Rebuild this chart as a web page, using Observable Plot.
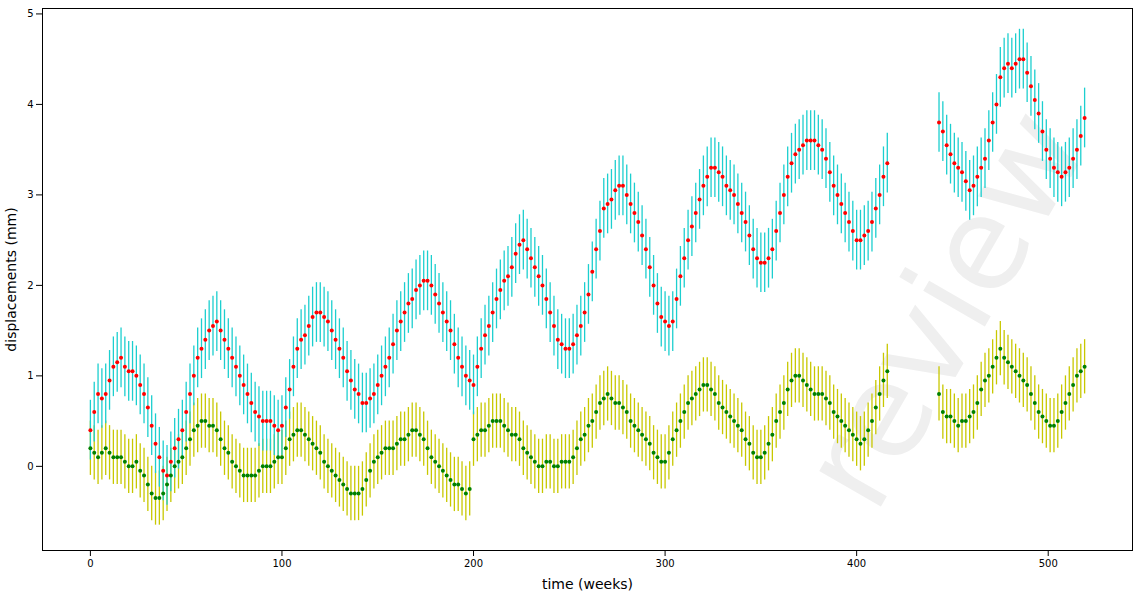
<!DOCTYPE html>
<html><head><meta charset="utf-8">
<script src="https://cdn.jsdelivr.net/npm/d3@7"></script>
<script src="https://cdn.jsdelivr.net/npm/@observablehq/plot@0.6"></script>
<style>body{margin:0;background:#fff;font-family:"DejaVu Sans",sans-serif}</style>
</head><body><div id="c"></div>
<script>
const weeksA = d3.range(0, 417, 4);
const weeksA2 = d3.range(2, 415, 4);
const weeksB = [443,447,451,455,459,463,467,471,475,479,483,487,491,495,499,503,507,511,515,519];
const weeksB2 = [445,449,453,457,461,465,469,473,477,481,485,489,493,497,501,505,509,513,517];
const redA = [0.4,0.8,0.8,1.1,1.2,1.05,1.0,0.8,0.45,0.1,-0.1,0.2,0.4,0.8,1.2,1.4,1.55,1.5,1.3,1.1,0.9,0.7,0.55,0.5,0.45,0.45,0.85,1.3,1.45,1.65,1.7,1.6,1.4,1.2,0.95,0.8,0.7,0.8,1.0,1.2,1.5,1.7,1.85,2.0,2.05,1.9,1.7,1.5,1.2,1.0,0.9,1.3,1.55,1.85,2.05,2.2,2.45,2.4,2.2,2.0,1.7,1.4,1.3,1.35,1.55,1.9,2.4,2.85,2.95,3.1,3.0,2.8,2.55,2.2,1.8,1.6,1.6,2.1,2.5,2.8,3.1,3.3,3.25,3.1,3.0,2.8,2.55,2.3,2.25,2.4,2.8,3.2,3.45,3.55,3.6,3.55,3.4,3.1,2.9,2.7,2.5,2.55,2.7,3.0,3.35];
const redA2 = [0.6,0.75,0.95,1.15,1.1,1.05,0.9,0.65,0.25,-0.05,0.05,0.3,0.6,1.0,1.3,1.5,1.6,1.4,1.2,1.0,0.8,0.6,0.5,0.5,0.4,0.65,1.1,1.4,1.55,1.7,1.65,1.5,1.3,1.05,0.85,0.7,0.75,0.9,1.1,1.35,1.6,1.8,1.95,2.05,2.0,1.8,1.6,1.35,1.1,0.95,1.1,1.45,1.7,1.95,2.1,2.35,2.5,2.3,2.1,1.85,1.55,1.35,1.3,1.45,1.7,2.15,2.6,2.9,3.05,3.1,2.9,2.7,2.4,2.0,1.65,1.55,1.85,2.3,2.65,2.95,3.2,3.3,3.2,3.05,2.9,2.7,2.4,2.25,2.3,2.6,3.0,3.35,3.5,3.6,3.6,3.5,3.25,3.0,2.8,2.6,2.5,2.6,2.85,3.2];
const redB = [3.8,3.55,3.35,3.25,3.05,3.2,3.4,3.8,4.3,4.45,4.45,4.5,4.2,3.9,3.5,3.3,3.2,3.3,3.5,3.85];
const redB2 = [3.7,3.45,3.3,3.15,3.1,3.3,3.6,4.0,4.4,4.4,4.5,4.35,4.05,3.7,3.4,3.25,3.25,3.4,3.65];
const greenA = [0.2,0.1,0.2,0.1,0.1,0.0,0.05,-0.1,-0.3,-0.35,-0.2,0.0,0.1,0.3,0.45,0.5,0.45,0.3,0.15,0.0,-0.1,-0.1,-0.05,0.0,0.05,0.1,0.3,0.4,0.35,0.25,0.15,0.0,-0.1,-0.2,-0.3,-0.3,-0.15,0.05,0.15,0.2,0.25,0.3,0.4,0.35,0.2,0.05,-0.05,-0.15,-0.2,-0.3,0.3,0.4,0.45,0.5,0.45,0.35,0.3,0.15,0.05,0.0,0.05,0.0,0.05,0.1,0.3,0.45,0.6,0.75,0.75,0.7,0.6,0.45,0.35,0.25,0.1,0.05,0.3,0.5,0.7,0.8,0.9,0.85,0.7,0.6,0.5,0.4,0.25,0.1,0.15,0.35,0.6,0.85,1.0,0.95,0.85,0.8,0.75,0.6,0.5,0.4,0.3,0.3,0.5,0.8,1.05];
const greenA2 = [0.15,0.15,0.15,0.1,0.05,0.0,-0.05,-0.2,-0.35,-0.3,-0.1,0.05,0.2,0.4,0.5,0.45,0.4,0.2,0.05,-0.05,-0.1,-0.1,0.0,0.0,0.1,0.2,0.35,0.4,0.3,0.2,0.05,-0.05,-0.15,-0.25,-0.3,-0.25,-0.05,0.1,0.2,0.2,0.3,0.35,0.4,0.3,0.1,0.0,-0.1,-0.2,-0.25,-0.25,0.35,0.4,0.5,0.5,0.4,0.35,0.2,0.1,0.0,0.05,0.0,0.05,0.05,0.2,0.35,0.5,0.7,0.8,0.7,0.65,0.5,0.4,0.3,0.15,0.05,0.15,0.4,0.6,0.75,0.85,0.9,0.8,0.65,0.55,0.45,0.3,0.15,0.1,0.25,0.5,0.7,0.95,1.0,0.9,0.8,0.8,0.7,0.55,0.45,0.35,0.25,0.4,0.65,0.95];
const greenB = [0.8,0.55,0.5,0.5,0.55,0.7,0.95,1.1,1.3,1.15,1.05,0.95,0.8,0.6,0.5,0.45,0.6,0.8,1.0,1.1];
const greenB2 = [0.6,0.55,0.45,0.5,0.6,0.85,1.0,1.2,1.2,1.1,1.0,0.9,0.7,0.55,0.45,0.5,0.7,0.9,1.05];
const redErr = 0.33, greenErr = 0.3;

const mk = (ws, vs) => ws.map((w,i)=>({w, v:vs[i]}));
const red = [...mk(weeksA,redA), ...mk(weeksA2,redA2), ...mk(weeksB,redB), ...mk(weeksB2,redB2)];
const green = [...mk(weeksA,greenA), ...mk(weeksA2,greenA2), ...mk(weeksB,greenB), ...mk(weeksB2,greenB2)];

const chart = Plot.plot({
  width:1133, height:592, marginLeft:42, marginRight:1, marginTop:8, marginBottom:42,
  style:{fontSize:"10px", fontFamily:"DejaVu Sans"},
  x:{domain:[-25,544], ticks:[0,100,200,300,400,500], tickFormat:"d", label:"time (weeks)", labelAnchor:"center", labelArrow:false, labelOffset:38},
  y:{domain:[-0.93,5.06], ticks:[0,1,2,3,4,5], tickFormat:"d", label:"displacements (mm)", labelAnchor:"center", labelArrow:false, labelOffset:36},
  marks:[
    Plot.text(["review"],{frameAnchor:"bottom-right", rotate:-60, fontSize:130, fill:"#efefef", textAnchor:"middle", dx:-150, dy:-220}),
    Plot.ruleX(green,{x:"w", y1:d=>d.v-greenErr, y2:d=>d.v+greenErr, stroke:"#c8c800", strokeWidth:1.3}),
    Plot.ruleX(red,{x:"w", y1:d=>d.v-redErr, y2:d=>d.v+redErr, stroke:"#1ccfcf", strokeWidth:1.3}),
    Plot.dot(green,{x:"w", y:"v", r:2, fill:"green"}),
    Plot.dot(red,{x:"w", y:"v", r:2, fill:"red"}),
    Plot.frame({stroke:"#000"})
  ]
});
chart.querySelectorAll('[aria-label="x-axis label"] text, [aria-label="y-axis label"] text').forEach(t=>t.style.fontSize="14px");
document.getElementById("c").append(chart);
</script></body></html>
